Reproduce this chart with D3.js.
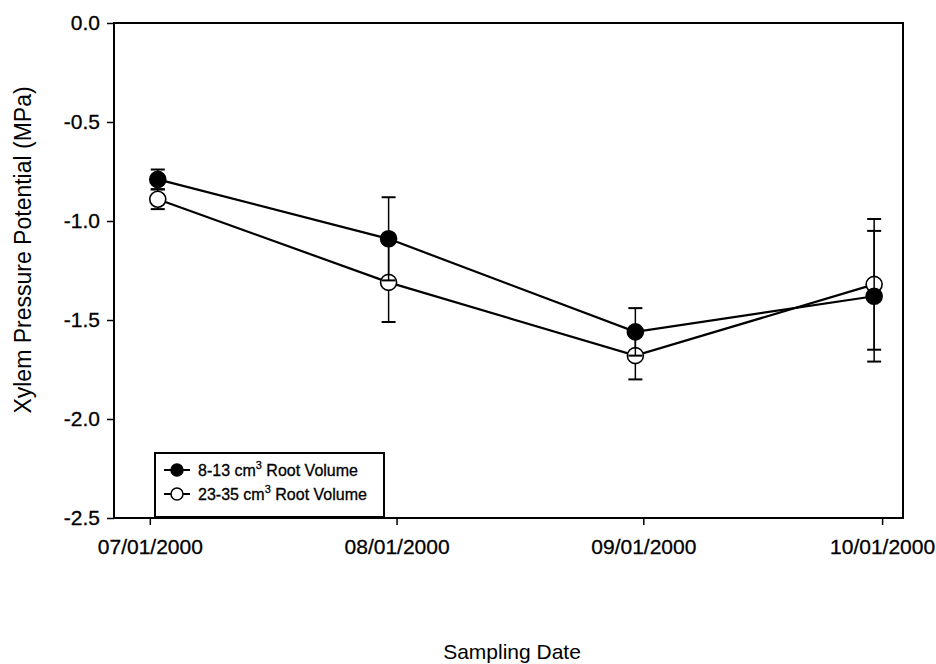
<!DOCTYPE html>
<html>
<head>
<meta charset="utf-8">
<script src="https://cdn.jsdelivr.net/npm/d3@7"></script>
<style>
  body { margin: 0; background: #fff; }
  svg { font-family: Arial, "Liberation Sans", sans-serif; }
</style>
</head>
<body>
<svg width="936" height="664"></svg>
<script>
    /* chart data */
    let dates = ["2000-07-02", "2000-07-31", "2000-08-31", "2000-09-30"];
    let smallRoot = [-0.79, -1.09, -1.56, -1.38];
    let smallErr = [0.05, 0.21, 0.12, 0.33];
    let largeRoot = [-0.89, -1.31, -1.68, -1.32];
    let largeErr = [0.05, 0.20, 0.12, 0.33];
    let xTicks = ["2000-07-01", "2000-08-01", "2000-09-01", "2000-10-01"];
    let yTicks = [0.0, -0.5, -1.0, -1.5, -2.0, -2.5];
    let seriesNames = ["8-13 cm", "23-35 cm"];

    let width = 936;
    let height = 664;
    let padLeft = 114, padRight = 903, padTop = 23, padBottom = 518;
    let fontStack = "Arial, 'Liberation Sans', sans-serif";

    const svg = d3.select("svg")
    const parse = d3.timeParse("%Y-%m-%d");
    const parseHour = d3.timeParse("%Y-%m-%d %H");

    let xScale = d3.scaleTime()
                    .domain([parseHour("2000-06-26 12"), parseHour("2000-10-03 15")])
                    .range([padLeft, padRight])
    let yScale = d3.scaleLinear().domain([-2.5, 0]).range([padBottom, padTop])

    // frame
    svg.append("rect").attr("x", padLeft).attr("y", padTop)
        .attr("width", padRight - padLeft).attr("height", padBottom - padTop)
        .attr("fill", "none").attr("stroke", "#000").attr("stroke-width", 2)

    let xAxis = d3.axisBottom(xScale)
                    .tickValues(xTicks.map(parse))
                    .tickFormat(d3.timeFormat("%m/%d/%Y"))
                    .tickSize(7).tickSizeOuter(0)
    let gx = svg.append("g").attr("transform", "translate(0," + padBottom + ")").call(xAxis)
    gx.select(".domain").remove()
    gx.selectAll("line").attr("stroke-width", 1.5)
    gx.selectAll("text").attr("y", 21).attr("font-size", 21).attr("fill", "#000")
        .attr("stroke", "#000").attr("stroke-width", 0.3)
        .attr("font-family", fontStack)

    let yAxis = d3.axisLeft(yScale).tickValues(yTicks).tickFormat((d) => d.toFixed(1))
                    .tickSize(7).tickSizeOuter(0)
    let gy = svg.append("g").attr("transform", "translate(" + padLeft + ",0)").call(yAxis)
    gy.select(".domain").remove()
    gy.selectAll("line").attr("stroke-width", 1.5)
    gy.selectAll("text").attr("x", -14).attr("font-size", 21).attr("fill", "#000")
        .attr("stroke", "#000").attr("stroke-width", 0.3)
        .attr("font-family", fontStack)

    // titles
    svg.append("text").attr("x", 512).attr("y", 659)
        .attr("text-anchor", "middle").attr("font-size", 21).text("Sampling Date")
    svg.append("text").attr("transform", "translate(31,250) rotate(-90)")
        .attr("text-anchor", "middle").attr("font-size", 23).text("Xylem Pressure Potential (MPa)")

    let line = d3.line().x((d) => xScale(parse(d.date))).y((d) => yScale(d.v))

    const drawSeries = (vals, errs, fill) => {
        let pts = vals.map((v, i) => ({ date: dates[i], v: v, e: errs[i] }))
        let g = svg.append("g")
        // error bars
        pts.forEach((d) => {
            let x = xScale(parse(d.date))
            g.append("line").attr("x1", x).attr("x2", x)
                .attr("y1", yScale(d.v + d.e)).attr("y2", yScale(d.v - d.e))
                .attr("stroke", "#000").attr("stroke-width", 1.5)
            ;[d.v + d.e, d.v - d.e].forEach((c) => {
                g.append("line").attr("x1", x - 7).attr("x2", x + 7)
                    .attr("y1", yScale(c)).attr("y2", yScale(c))
                    .attr("stroke", "#000").attr("stroke-width", 2)
            })
        })
        g.append("path").datum(pts).attr("d", line)
            .attr("fill", "none").attr("stroke", "#000").attr("stroke-width", 2.2)
        g.selectAll("circle").data(pts).enter().append("circle")
            .attr("cx", (d) => xScale(parse(d.date))).attr("cy", (d) => yScale(d.v))
            .attr("r", 8).attr("fill", fill).attr("stroke", "#000").attr("stroke-width", 1.6)
    }
    drawSeries(largeRoot, largeErr, "#fff")
    drawSeries(smallRoot, smallErr, "#000")

    // legend
    let lg = svg.append("g").attr("transform", "translate(155,453)")
    lg.append("rect").attr("width", 229).attr("height", 64)
        .attr("fill", "#fff").attr("stroke", "#000").attr("stroke-width", 2)
    seriesNames.forEach((name, i) => {
        let y = 17 + i * 24
        lg.append("line").attr("x1", 9).attr("x2", 35).attr("y1", y).attr("y2", y)
            .attr("stroke", "#000").attr("stroke-width", 2)
        lg.append("circle").attr("cx", 22).attr("cy", y).attr("r", 6)
            .attr("fill", i == 0 ? "#000" : "#fff").attr("stroke", "#000").attr("stroke-width", 1.5)
        let t = lg.append("text").attr("x", 43).attr("y", y + 6).attr("font-size", 16)
            .attr("stroke", "#000").attr("stroke-width", 0.3)
        t.append("tspan").text(name)
        t.append("tspan").attr("font-size", 11).attr("dy", -7).text("3")
        t.append("tspan").attr("dy", 7).text(" Root Volume")
    })
</script>
</body>
</html>
